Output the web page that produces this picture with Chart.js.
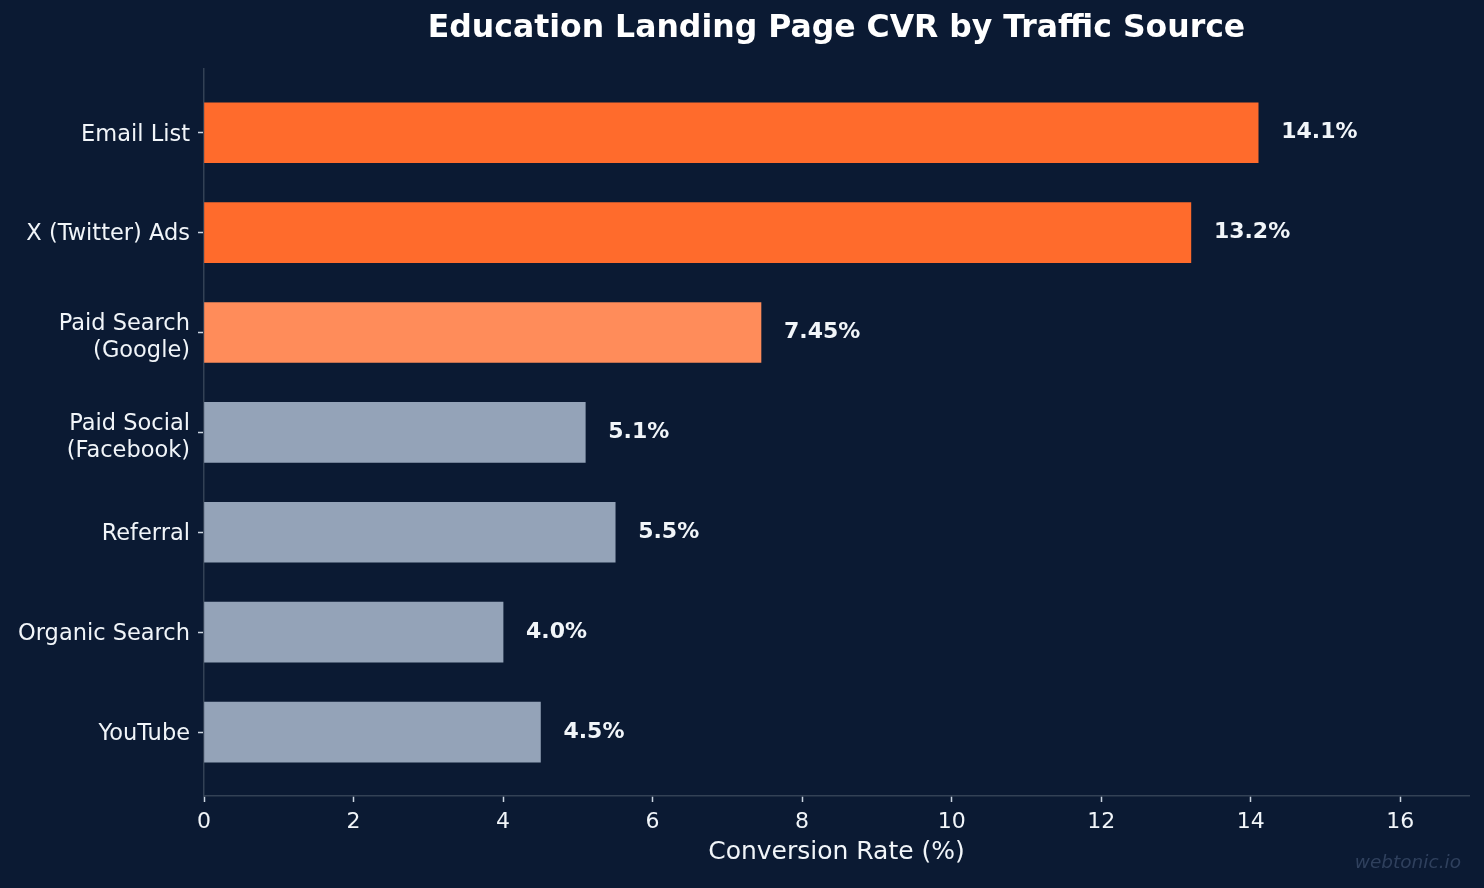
<!DOCTYPE html>
<html>
<head>
<meta charset="utf-8">
<script src="https://cdn.jsdelivr.net/npm/chart.js@4.4.1/dist/chart.umd.min.js"></script>
<style>
  html, body { margin: 0; padding: 0; background: #0b1a33; }
  #wrap { width: 1484px; height: 888px; }
</style>
</head>
<body>
<div id="wrap"><canvas id="chart"></canvas></div>
<script>
const sources = [
  "Email List",
  "X (Twitter) Ads",
  ["Paid Search", "(Google)"],
  ["Paid Social", "(Facebook)"],
  "Referral",
  "Organic Search",
  "YouTube",
];
const cvr = [14.1, 13.2, 7.45, 5.1, 5.5, 4.0, 4.5];
const cvrLabels = ["14.1%", "13.2%", "7.45%", "5.1%", "5.5%", "4.0%", "4.5%"];
const barColors = ["#ff6b2c", "#ff6b2c", "#ff8c5a", "#94a3b8", "#94a3b8", "#94a3b8", "#94a3b8"];
const xTicks = [0, 2, 4, 6, 8, 10, 12, 14, 16];

const FONT = "'DejaVu Sans', sans-serif";
const TEXT = "#f1f5f9";
const SPINE = "#334155";

// value labels at the end of each bar
const valueLabels = {
  id: "valueLabels",
  afterDatasetsDraw(chart) {
    const ctx = chart.ctx;
    const meta = chart.getDatasetMeta(0);
    ctx.save();
    ctx.font = "bold 22px " + FONT;
    ctx.fillStyle = TEXT;
    ctx.textAlign = "left";
    ctx.textBaseline = "middle";
    meta.data.forEach((bar, i) => {
      ctx.fillText(cvrLabels[i], bar.x + 23, bar.y);
    });
    ctx.restore();
  },
};

// nudge tick labels down a little so they sit like the original
const labelNudge = {
  id: "labelNudge",
  beforeDraw(chart) {
    chart.scales.y.getLabelItems().forEach(it => {
      it.options.translation[1] += Array.isArray(it.label) ? 5 : 2;
    });
    chart.scales.x.getLabelItems().forEach(it => {
      it.options.translation[1] += 2;
    });
  },
};

const watermark = {
  id: "watermark",
  afterDraw(chart) {
    const ctx = chart.ctx;
    ctx.save();
    ctx.font = "italic 18.5px " + FONT;
    ctx.fillStyle = "#2f405d";
    ctx.textAlign = "right";
    ctx.textBaseline = "middle";
    ctx.fillText("webtonic.io", 1461, 863);
    ctx.restore();
  },
};

const bgFill = {
  id: "bgFill",
  beforeDraw(chart) {
    const ctx = chart.ctx;
    ctx.save();
    ctx.fillStyle = "#0b1a33";
    ctx.fillRect(0, 0, chart.width, chart.height);
    ctx.restore();
  },
};

new Chart(document.getElementById("chart"), {
  type: "bar",
  data: {
    datasets: [{
      data: cvr.map((v, i) => ({ x: v, y: i })),
      backgroundColor: barColors,
      borderWidth: 0,
      barThickness: 60,
    }],
  },
  options: {
    indexAxis: "y",
    responsive: true,
    maintainAspectRatio: false,
    animation: false,
    layout: { padding: { left: 0, right: 15, top: 0, bottom: 0 } },
    plugins: {
      legend: { display: false },
      tooltip: { enabled: false },
      title: {
        display: true,
        text: "Education Landing Page CVR by Traffic Source",
        color: "#ffffff",
        font: { family: FONT, size: 31.5, weight: "bold" },
        padding: { top: 10, bottom: 21 },
        fullSize: false,
      },
    },
    scales: {
      x: {
        type: "linear",
        min: 0,
        max: 16.92,
        afterBuildTicks(scale) { scale.ticks = xTicks.map(v => ({ value: v })); },
        afterFit(scale) { scale.height = 92; },
        ticks: { color: TEXT, font: { family: FONT, size: 22 }, padding: 5 },
        grid: { display: true, drawOnChartArea: false, drawTicks: true, tickLength: 6, tickColor: "#cbd5e1", tickWidth: 1.5 },
        border: { color: SPINE, width: 1.5 },
        title: {
          display: true,
          text: "Conversion Rate (%)",
          color: TEXT,
          font: { family: FONT, size: 25 },
          padding: { top: 0, bottom: 21 },
        },
      },
      y: {
        type: "linear",
        min: -0.64,
        max: 6.64,
        reverse: true,
        offset: false,
        afterBuildTicks(scale) { scale.ticks = sources.map((_, i) => ({ value: i })); },
        afterFit(scale) { scale.width = 204; },
        ticks: {
          color: TEXT,
          font: { family: FONT, size: 22.5, lineHeight: 1.2 },
          padding: 8,
          callback: (v) => sources[v],
        },
        grid: { display: true, offset: false, drawOnChartArea: false, drawTicks: true, tickLength: 6, tickColor: "#cbd5e1", tickWidth: 1.5 },
        border: { color: SPINE, width: 1.5 },
      },
    },
  },
  plugins: [bgFill, labelNudge, valueLabels, watermark],
});
</script>
</body>
</html>
